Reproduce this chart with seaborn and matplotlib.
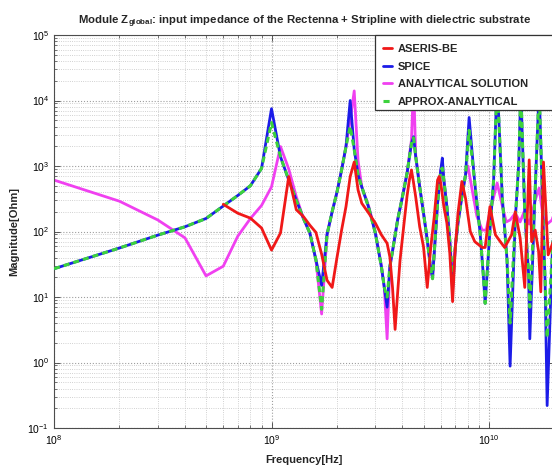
import numpy as np
import pandas as pd
import matplotlib
matplotlib.use("Agg")
import matplotlib.pyplot as plt
from matplotlib.patches import Rectangle
from matplotlib.ticker import LogLocator, NullFormatter
import seaborn as sns

# Frequencies in GHz, impedance magnitudes in Ohm
freq_sim = [0.1, 0.2, 0.3, 0.4, 0.5, 0.6, 0.7, 0.8, 0.9, 1.0, 1.1, 1.2, 1.3, 1.4, 1.5,
            1.6, 1.7, 1.8, 1.9, 2.0, 2.1, 2.2, 2.3, 2.4, 2.5, 2.6, 2.8, 3.0, 3.2, 3.3,
            3.4, 3.5, 3.6, 3.8, 4.0, 4.2, 4.4, 4.5, 4.6, 4.8, 5.0, 5.2, 5.4, 5.5, 5.6,
            5.8, 6.0, 6.1, 6.2, 6.4, 6.6, 6.8, 7.0, 7.2, 7.5, 7.8, 8.1, 8.6, 9.1, 9.4,
            9.6, 10.1, 10.5, 10.9, 11.5, 12.1, 12.5, 13.2, 13.7, 14.0, 14.6, 15.2, 15.4,
            16.3, 17.0, 17.8, 18.1, 18.5, 19.5, 20.0]
spice = [27, 56, 88, 118, 158, 245, 355, 500, 920, 7500, 1380, 610, 300, 160, 95,
         37, 15, 90, 200, 400, 870, 1980, 10000, 1800, 730, 480, 230, 95, 29, 14,
         7, 29, 50, 150, 340, 780, 2200, 2800, 1400, 480, 190, 74, 26, 20, 47,
         270, 870, 1320, 610, 240, 74, 12.7, 58, 135, 340, 730, 5500, 550, 95, 23,
         8, 105, 610, 20000, 340, 37, 0.88, 150, 1100, 15000, 190, 23, 2.3,
         430, 15000, 95, 18, 0.22, 40, 200]
approx = [27, 56, 88, 118, 158, 245, 355, 500, 920, 4600, 1380, 610, 300, 160, 95,
          37, 6.5, 90, 200, 400, 870, 1980, 4000, 1800, 730, 480, 230, 95, 29, 14,
          10, 29, 50, 150, 340, 780, 2200, 2700, 1400, 480, 190, 74, 26, 19, 47,
          270, 870, 930, 610, 240, 74, 19, 58, 135, 340, 730, 3500, 550, 95, 23,
          8, 105, 610, 20000, 340, 37, 4, 150, 1100, 15000, 190, 23, 7,
          430, 15000, 95, 18, 2.4, 40, 200]

freq_an = [0.1, 0.2, 0.3, 0.4, 0.5, 0.6, 0.7, 0.8, 0.9, 1.0, 1.1, 1.2, 1.3, 1.4, 1.5,
           1.6, 1.7, 1.8, 1.9, 2.0, 2.1, 2.2, 2.3, 2.4, 2.5, 2.6, 2.8, 3.0, 3.2, 3.3,
           3.4, 3.5, 3.6, 3.8, 4.0, 4.2, 4.4, 4.5, 4.6, 4.8, 5.0, 5.2, 5.4, 5.5, 5.6,
           5.8, 6.0, 6.1, 6.2, 6.4, 6.6, 6.8, 7.0, 7.2, 7.5, 7.8, 8.0, 8.3, 8.8, 9.3,
           9.7, 10.1, 10.9, 11.5, 12.0, 12.5, 13.2, 13.9, 14.5, 15.3, 16.3, 17.0, 17.8,
           18.5, 19.5, 20.0]
analytical = [610, 290, 150, 80, 21, 29.5, 85, 158, 250, 480, 1980, 900, 340, 160, 95,
              37, 5.5, 90, 200, 400, 870, 1980, 5000, 14000, 1200, 480, 240, 100, 30, 14,
              2.3, 29, 50, 150, 340, 780, 2500, 20000, 1500, 480, 190, 74, 26, 19, 47,
              270, 870, 930, 610, 240, 74, 19, 58, 135, 340, 730, 1000, 500, 170, 105,
              105, 200, 550, 250, 140, 150, 190, 140, 200, 130, 300, 460, 150,
              130, 150, 200]

freq_as = [0.6, 0.7, 0.8, 0.9, 1.0, 1.1, 1.2, 1.3, 1.4, 1.5, 1.6, 1.7, 1.8, 1.9, 2.0,
           2.1, 2.2, 2.3, 2.4, 2.5, 2.6, 2.8, 3.0, 3.2, 3.4, 3.5, 3.6, 3.7, 3.8, 3.9,
           4.0, 4.1, 4.2, 4.3, 4.4, 4.5, 4.6, 4.8, 5.0, 5.2, 5.4, 5.6, 5.8, 5.9, 6.0,
           6.2, 6.4, 6.6, 6.8, 7.0, 7.2, 7.5, 7.8, 8.2, 8.6, 9.3, 9.6, 10.1, 10.7, 11.2,
           11.8, 12.7, 13.2, 13.9, 14.6, 15.3, 15.7, 16.3, 16.9, 17.3, 17.8, 18.7, 19.4,
           20.0]
aseris = [260, 190, 160, 113, 52, 95, 690, 215, 170, 125, 97, 45, 18, 14, 40,
          105, 240, 690, 1150, 430, 270, 190, 135, 89, 66, 41, 14, 3.2, 11.5, 37,
          80, 170, 350, 600, 870, 550, 340, 118, 58, 14, 58, 170, 610, 690, 550,
          240, 135, 47, 8.5, 58, 190, 580, 320, 100, 70, 57, 57, 240, 89, 72,
          57, 89, 200, 80, 14, 1240, 70, 105, 50, 12, 1150, 44, 60,
          80]

labels = ["ASERIS-BE", "SPICE", "ANALYTICAL SOLUTION", "APPROX-ANALYTICAL"]
colors = ["#f01818", "#1c1ce8", "#f040f0", "#3cd23c"]

sns.set_theme(style="ticks")
plt.rcParams["font.family"] = ["Liberation Sans", "DejaVu Sans"]
plt.rcParams["mathtext.fontset"] = "custom"
plt.rcParams["mathtext.rm"] = "Liberation Sans"
plt.rcParams["mathtext.bf"] = "Liberation Sans:bold"

fig = plt.figure(figsize=(5.52, 4.68), dpi=100)
fig.patch.set_facecolor("white")
ax = fig.add_axes([54 / 552, 40 / 468, 500.5 / 552, 393 / 468])

df_as = pd.DataFrame({"f": np.array(freq_as) * 1e9, "z": aseris})
df_sp = pd.DataFrame({"f": np.array(freq_sim) * 1e9, "z": spice})
df_an = pd.DataFrame({"f": np.array(freq_an) * 1e9, "z": analytical})
df_ap = pd.DataFrame({"f": np.array(freq_sim) * 1e9, "z": approx})

sns.lineplot(data=df_sp, x="f", y="z", color=colors[1], lw=2.0, ax=ax,
             estimator=None, sort=False, label=labels[1], zorder=3)
sns.lineplot(data=df_an, x="f", y="z", color=colors[2], lw=2.0, ax=ax,
             estimator=None, sort=False, label=labels[2], zorder=2)
sns.lineplot(data=df_ap, x="f", y="z", color=colors[3], lw=2.2, ax=ax,
             estimator=None, sort=False, label=labels[3], zorder=4)
ax.lines[-1].set_dashes((2.0, 1.3))
sns.lineplot(data=df_as, x="f", y="z", color=colors[0], lw=2.0, ax=ax,
             estimator=None, sort=False, label=labels[0], zorder=5)

ax.set_xscale("log")
ax.set_yscale("log")
ax.set_xlim(1e8, 2e10)
ax.set_ylim(1e-1, 1e5)

ax.yaxis.set_major_locator(LogLocator(base=10, numticks=10))
ax.yaxis.set_minor_locator(LogLocator(base=10, subs=np.arange(2, 10), numticks=20))
ax.xaxis.set_minor_formatter(NullFormatter())
ax.yaxis.set_minor_formatter(NullFormatter())

ax.grid(True, which="major", ls=":", color="0.62", lw=0.8)
ax.grid(True, which="minor", ls=":", color="0.76", lw=0.6)
ax.tick_params(which="both", direction="in", top=True, right=True,
               labelsize=7.5, colors="0.25", labelcolor="black")
ax.tick_params(which="major", length=4, width=0.6)
ax.tick_params(which="minor", length=2, width=0.5)
for s in ax.spines.values():
    s.set_color("0.3")
    s.set_linewidth(0.8)

ax.set_xlabel("Frequency[Hz]", fontsize=8, fontweight="bold", labelpad=6)
ax.set_ylabel("Magnitude[Ohm]", fontsize=8, fontweight="bold", labelpad=6)
ax.set_title(r"Module Z$_{\mathbf{global}}$: input impedance of the Rectenna + Stripline with dielectric substrate",
             fontsize=8.2, fontweight="bold", pad=8)

# legend box: white panel with a dark frame in the upper right corner
box_x0 = (375 - 54) / 500.5
box_y0 = (428 - 110) / 393
ax.add_patch(Rectangle((box_x0, box_y0), 1.05 - box_x0, 1.0 - box_y0,
                       transform=ax.transAxes, facecolor="white", edgecolor="0.2",
                       lw=0.9, zorder=9, clip_on=False))

handles, labs = ax.get_legend_handles_labels()
order = [labs.index(l) for l in labels]
leg = ax.legend([handles[i] for i in order], [labs[i] for i in order],
                loc="upper left", bbox_to_anchor=(box_x0, 0.997),
                borderaxespad=0.0, fontsize=8, handlelength=0.8,
                handletextpad=0.55, labelspacing=0.68, borderpad=0.72,
                frameon=False)
for t in leg.get_texts():
    t.set_fontweight("bold")
leg.set_zorder(10)

fig.savefig("out.png", dpi=100)
